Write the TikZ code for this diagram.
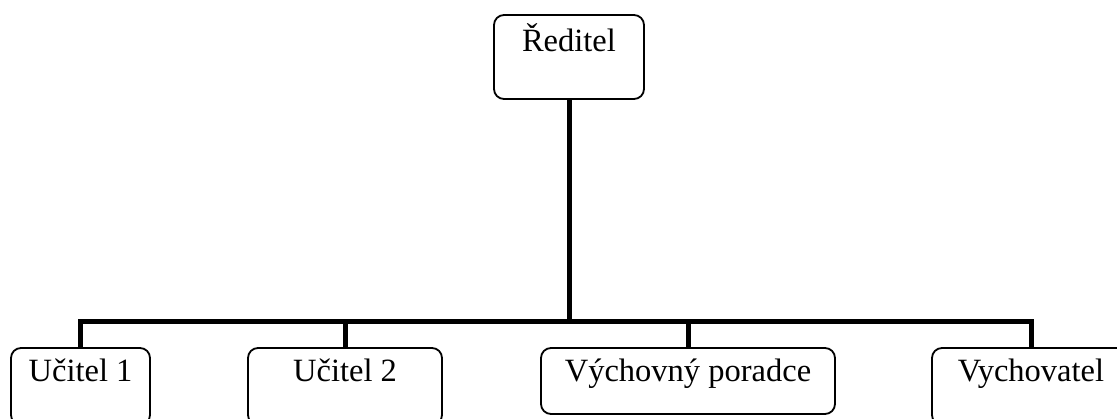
\documentclass[tikz,border=0pt]{standalone}
\usepackage{fontspec}
\setmainfont{Liberation Serif}
\begin{document}
\begin{tikzpicture}[x=1pt,y=-1pt,
  orgbox/.style={draw=black, line width=1.8pt, rounded corners=10pt, fill=white,
    inner xsep=0pt, inner ysep=0pt, anchor=base,
    font=\fontsize{32.5}{39}\selectfont},
  conn/.style={draw=black, line width=5pt, line join=miter}]
\clip (0,0) rectangle (1117,419);
\fill[white] (0,0) rectangle (1117,419);
\node[orgbox, minimum width=150pt, text height=37pt, text depth=47pt] (r) at (569,52) {Ředitel};
\node[orgbox, minimum width=139pt, text height=34pt, text depth=43pt] (u1) at (80.5,382) {Učitel 1};
\node[orgbox, minimum width=194pt, text height=34pt, text depth=43pt] (u2) at (345,382) {Učitel 2};
\node[orgbox, minimum width=294pt, text height=34pt, text depth=32pt] (vp) at (688,382) {Výchovný poradce};
\node[orgbox, minimum width=198pt, text height=34pt, text depth=43pt] (vy) at (1031,382) {Vychovatel};
\coordinate (bar) at (569,322);
\draw[conn] (r.south) -- (bar);
\draw[conn] (u1.north) |- (bar) -| (vy.north);
\draw[conn] (u2.north) -- (u2.north |- bar);
\draw[conn] (vp.north) -- (vp.north |- bar);
\end{tikzpicture}
\end{document}
